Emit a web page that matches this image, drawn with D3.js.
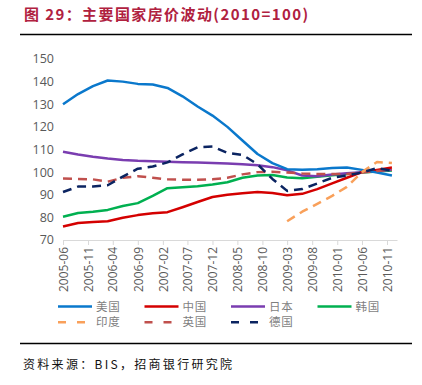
<!DOCTYPE html>
<html>
<head>
<meta charset="utf-8">
<script src="https://cdn.jsdelivr.net/npm/d3@7.9.0/dist/d3.min.js"></script>
<style>
  html, body { margin: 0; padding: 0; background: #fff; }
  svg { display: block; font-family: "Open Sans", "Noto Sans CJK SC", sans-serif; }
</style>
</head>
<body>
<svg id="chart" width="422" height="385"></svg>
<script>
// quarterly observations, 2005-06 .. 2010-12
const dates = [
  '2005-06', '2005-09', '2005-12', '2006-03', '2006-06', '2006-09', '2006-12',
  '2007-03', '2007-06', '2007-09', '2007-12', '2008-03', '2008-06', '2008-09',
  '2008-12', '2009-03', '2009-06', '2009-09', '2009-12', '2010-03', '2010-06',
  '2010-09', '2010-12'
];
const usa = [130, 134.5, 138, 140.5, 140, 139, 138.7, 137.2, 133.5, 129, 125, 120,
  114, 108, 104, 101.3, 101, 101.3, 101.8, 102, 101, 99.8, 98.5];
const china = [76, 77.5, 78, 78.3, 79.8, 81, 81.8, 82.3, 84.5, 86.8, 89, 90,
  90.7, 91.2, 90.8, 89.8, 90.4, 92.5, 95, 97.5, 100, 101, 102];
const japan = [109, 107.8, 106.8, 106, 105.4, 105, 104.8, 104.6, 104.4, 104.2, 104, 103.8,
  103.5, 103, 102.2, 100.8, 98.5, 98.2, 99, 99.5, 100, 100.5, 101];
const korea = [80.3, 81.9, 82.5, 83.3, 85, 86.3, 89.5, 92.9, 93.3, 93.8, 94.5, 95.5,
  97.5, 98.5, 98.7, 97.6, 97.3, 98, 98.6, 99.2, 99.8, 100.3, 100.7];
const india = [null, null, null, null, null, null, null, null, null, null, null, null,
  null, null, null, 78.3, 82.5, 86, 89.5, 93.5, 100, 104.5, 104];
const uk = [97.2, 97, 96.8, 95.8, 97.5, 98.2, 97.5, 96.8, 96.6, 96.6, 96.8, 97.5,
  99, 100, 100.2, 99.8, 99.4, 99.2, 99.2, 99.2, 99.8, 100.5, 101];
const germany = [91.2, 93.6, 93.6, 94.2, 98, 101.5, 102.5, 104.3, 107.8, 111, 111.3, 108.5,
  107.6, 103.5, 97, 91.7, 92.5, 95, 97.5, 98.5, 99.8, 101.8, 100.7];

const xTickLabels = ['2005-06', '2005-11', '2006-04', '2006-09', '2007-02', '2007-07', '2007-12',
  '2008-05', '2008-10', '2009-03', '2009-08', '2010-01', '2010-06', '2010-11'];
const yTicks = [70, 80, 90, 100, 110, 120, 130, 140, 150];

const series = [
  { name: '美国', values: usa, color: '#0A78CC', dash: null },
  { name: '中国', values: china, color: '#D40000', dash: null },
  { name: '日本', values: japan, color: '#7A3DB0', dash: null },
  { name: '韩国', values: korea, color: '#00B050', dash: null },
  { name: '印度', values: india, color: '#F9A05A', dash: '9,6' },
  { name: '英国', values: uk, color: '#C0504D', dash: '9,6' },
  { name: '德国', values: germany, color: '#0B2461', dash: '9,6' }
];

const parse = d3.timeParse('%Y-%m');
const svg = d3.select('#chart');

const x = d3.scaleTime()
  .domain([parse('2005-06'), parse('2011-01')])
  .range([63, 397]);
const y = d3.scaleLinear().domain([70, 150]).range([240, 59]);

// title
svg.append('text')
  .attr('x', 24).attr('y', 20)
  .attr('fill', '#B0213F')
  .attr('font-size', 15).attr('font-weight', 'bold')
  .attr('letter-spacing', 1.4)
  .attr('font-family', '"Noto Sans CJK SC", sans-serif')
  .text('图 29：主要国家房价波动(2010=100)');

svg.append('line')
  .attr('x1', 20).attr('x2', 412).attr('y1', 34.5).attr('y2', 34.5)
  .attr('stroke', '#000').attr('stroke-width', 1.5);

// y axis labels
svg.append('g')
  .selectAll('text')
  .data(yTicks)
  .join('text')
  .attr('x', 54).attr('y', d => y(d))
  .attr('dy', '0.35em')
  .attr('text-anchor', 'end')
  .attr('fill', '#595959')
  .attr('font-size', 12.5)
  .text(d => d);

// x axis
const xAxis = d3.axisBottom(x)
  .tickValues(xTickLabels.map(parse))
  .tickFormat(d3.timeFormat('%Y-%m'))
  .tickSize(5)
  .tickSizeOuter(0);

const gx = svg.append('g')
  .attr('transform', 'translate(0,240)')
  .call(xAxis);
gx.select('.domain').attr('stroke', '#D9D9D9');
gx.selectAll('.tick line').attr('stroke', '#D9D9D9');
gx.selectAll('.tick text')
  .attr('fill', '#595959')
  .attr('font-size', 12)
  .attr('font-family', '"Open Sans", sans-serif')
  .attr('transform', 'rotate(-90)')
  .attr('text-anchor', 'end')
  .attr('x', -7).attr('y', 0).attr('dy', '0.35em');

// lines
const line = d3.line()
  .defined(d => d.v != null)
  .x(d => x(d.date))
  .y(d => y(d.v));

const drawOrder = ['韩国', '日本', '中国', '美国', '英国', '印度', '德国'];
drawOrder.forEach(n => {
  const s = series.find(s => s.name === n);
  const pts = dates.map((dt, i) => ({ date: parse(dt), v: s.values[i] }));
  svg.append('path')
    .attr('d', line(pts))
    .attr('fill', 'none')
    .attr('stroke', s.color)
    .attr('stroke-width', 2.5)
    .attr('stroke-dasharray', s.dash)
    .attr('stroke-linejoin', 'round');
});

// legend
const legend = svg.append('g')
  .attr('font-family', '"Noto Sans CJK SC", sans-serif')
  .attr('font-size', 11.5)
  .attr('fill', '#7F7F7F');
series.forEach((s, i) => {
  const col = i % 4, row = Math.floor(i / 4);
  const lx = 58 + col * 86.5, ly = 306.5 + row * 15.8;
  legend.append('line')
    .attr('x1', lx).attr('x2', lx + 34).attr('y1', ly).attr('y2', ly)
    .attr('stroke', s.color).attr('stroke-width', 2.5)
    .attr('stroke-dasharray', s.dash ? '8,11' : null);
  legend.append('text')
    .attr('x', lx + 38).attr('y', ly).attr('dy', '0.35em')
    .attr('letter-spacing', 0.8)
    .text(s.name);
});

svg.append('line')
  .attr('x1', 20).attr('x2', 412).attr('y1', 343.5).attr('y2', 343.5)
  .attr('stroke', '#000').attr('stroke-width', 1.5);

svg.append('text')
  .attr('x', 23).attr('y', 369)
  .attr('font-size', 12)
  .attr('font-family', '"Noto Sans CJK SC", sans-serif')
  .attr('letter-spacing', 2.3)
  .attr('fill', '#111')
  .text('资料来源：BIS，招商银行研究院');
</script>
</body>
</html>
